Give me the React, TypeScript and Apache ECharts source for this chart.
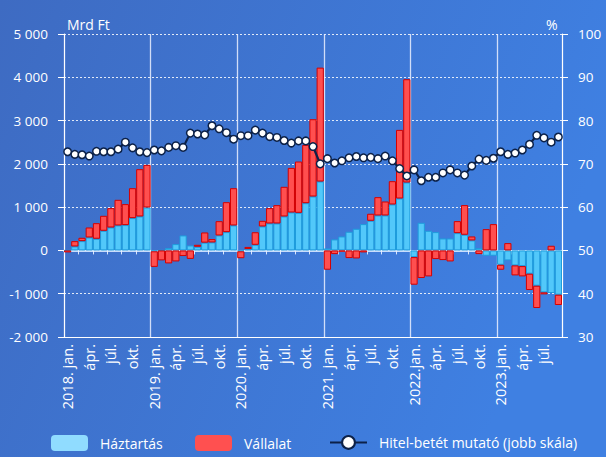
import React, { useEffect, useRef } from "react";
import * as echarts from "echarts";

const years = [2018, 2019, 2020, 2021, 2022, 2023];
const monthNames = ["jan.", "febr.", "márc.", "ápr.", "máj.", "jún.", "júl.", "aug.", "szept.", "okt.", "nov.", "dec."];
const monthCount = 69; // 2018. jan. – 2023. szept.

const categories: string[] = [];
const tickLabels: string[] = [];
for (let i = 0; i < monthCount; i++) {
  const y = years[Math.floor(i / 12)];
  const m = i % 12;
  categories.push(`${y}. ${monthNames[m]}`);
  tickLabels.push(m === 0 ? (y >= 2022 ? `${y}.jan.` : `${y}. jan.`) : monthNames[m]);
}

// Mrd Ft
const haztartas = [
  0, 92, 215, 300, 270, 454, 530, 577, 585, 746, 785, 992,
  -20, 0, 54, 146, 346, 115, 85, 180, 185, 346, 423, 577,
  -20, 31, 130, 554, 623, 623, 785, 877, 869, 1092, 1246, 1592,
  46, 254, 323, 431, 500, 608, 685, 808, 808, 1062, 1200, 1570,
  -154, 638, 454, 423, 277, 277, 400, 362, 231, 54, -123, -123,
  -331, -231, -346, -362, -538, -815, -969, -985, -1023,
];
const vallalat = [
  -46, 123, 77, 230, 360, 346, 447, 592, 485, 692, 1092, 985,
  -360, -230, -300, -254, -130, -195, 45, 235, 77, 330, 692, 861,
  -160, 50, 290, 130, 354, 423, 685, 1030, 1185, 1346, 1785, 2631,
  -446, -85, -30, -177, -185, -46, 162, 423, 323, 538, 1585, 2385,
  -638, -638, -600, -200, -223, -254, 277, 685, 92, -85, 492, 608,
  -115, 169, -231, -238, -377, -515, -46, 108, -238,
];
// %
const mutato = [
  72.8, 72.2, 72.1, 71.8, 72.9, 72.8, 72.8, 73.4, 75.0, 73.7, 72.8, 72.6,
  73.2, 73.0, 73.8, 74.2, 73.8, 77.1, 76.9, 76.7, 78.8, 78.1, 77.2, 75.7,
  76.5, 76.5, 77.8, 77.1, 76.3, 76.1, 75.4, 74.8, 75.3, 75.3, 74.0, 70.0,
  71.2, 70.2, 70.7, 71.4, 71.7, 71.4, 71.5, 71.2, 71.8, 70.7, 68.9, 67.2,
  68.6, 66.1, 66.9, 66.9, 67.9, 68.6, 67.9, 67.4, 69.5, 71.1, 70.8, 71.3,
  72.8, 72.2, 72.5, 73.2, 74.5, 76.6, 76.0, 75.0, 76.2,
];

const leftTicks = { min: -2000, max: 5000, interval: 1000 };
const rightTicks = { min: 30, max: 100, interval: 10 };

const FONT = "Open Sans";
const WHITE = "#ffffff";

function fmtThousands(v: number): string {
  return String(v).replace(/\B(?=(\d{3})+(?!\d))/g, " ");
}

export default function App() {
  const ref = useRef<HTMLDivElement>(null);
  useEffect(() => {
    if (!ref.current) return;
    const chart = echarts.init(ref.current, undefined, { renderer: "svg" });
    const legendText = { color: WHITE, fontSize: 14, fontFamily: FONT, padding: [0, 0, 0, 7] };
    chart.setOption({
      animation: false,
      backgroundColor: new echarts.graphic.LinearGradient(0, 0, 1, 0.3, [
        { offset: 0, color: "#3e6bc2" },
        { offset: 1, color: "#3f80e2" },
      ]),
      textStyle: { fontFamily: FONT },
      grid: { left: 64, right: 44, top: 34, bottom: 120, containLabel: false },
      graphic: [
        { type: "text", left: 67, top: 17, style: { text: "Mrd Ft", fill: WHITE, font: `14px "${FONT}"` } },
        { type: "text", left: 546, top: 17, style: { text: "%", fill: WHITE, font: `14px "${FONT}"` } },
      ],
      legend: [
        {
          data: [{ name: "Háztartás", itemStyle: { color: "#90dcff", borderWidth: 0 } }],
          left: 46, top: 430, itemWidth: 37, itemHeight: 16,
          textStyle: legendText,
        },
        {
          data: [{ name: "Vállalat", itemStyle: { color: "#ff5050", borderWidth: 0 } }],
          left: 190, top: 430, itemWidth: 37, itemHeight: 16,
          textStyle: legendText,
        },
        {
          data: ["Hitel-betét mutató (jobb skála)"],
          left: 324, top: 430, itemWidth: 37, itemHeight: 16,
          textStyle: legendText,
        },
      ],
      xAxis: [
        {
          type: "category",
          data: categories,
          boundaryGap: true,
          axisLine: { onZero: false, lineStyle: { color: WHITE, width: 1 } },
          axisTick: { show: false },
          axisLabel: {
            interval: 2,
            rotate: 90,
            color: WHITE,
            fontSize: 14.5,
            fontFamily: FONT,
            margin: 7,
            formatter: (_v: string, i: number) => tickLabels[i],
          },
          splitLine: {
            show: true,
            interval: (i: number) => i % 12 === 0,
            lineStyle: { color: "rgba(235,240,255,0.85)", width: 1.3, type: "solid" },
          },
        },
        {
          type: "category",
          data: categories,
          position: "bottom",
          boundaryGap: true,
          axisLine: { onZero: true, onZeroAxisIndex: 0, lineStyle: { color: "rgba(215,232,255,0.9)", width: 2 } },
          axisTick: { show: true, interval: 1, length: 4, lineStyle: { color: "rgba(235,242,255,0.9)", width: 1 } },
          axisLabel: { show: false },
          splitLine: { show: false },
        },
      ],
      yAxis: [
        {
          type: "value",
          ...leftTicks,
          position: "left",
          axisLine: { show: true, lineStyle: { color: WHITE, width: 1 } },
          axisTick: { show: true, length: 6, lineStyle: { color: WHITE } },
          axisLabel: { color: WHITE, fontSize: 13.5, fontFamily: FONT, margin: 16, formatter: (v: number) => fmtThousands(v) },
          splitLine: { show: true, lineStyle: { color: "rgba(255,255,255,0.85)", type: [2, 2], width: 1.2 } },
        },
        {
          type: "value",
          ...rightTicks,
          position: "right",
          axisLine: { show: true, lineStyle: { color: WHITE, width: 1 } },
          axisTick: { show: true, length: 6, lineStyle: { color: WHITE } },
          axisLabel: { color: WHITE, fontSize: 13.5, fontFamily: FONT, margin: 16 },
          splitLine: { show: false },
        },
      ],
      series: [
        {
          name: "Háztartás",
          type: "bar",
          stack: "total",
          data: haztartas,
          barCategoryGap: "0%",
          itemStyle: { color: "#52c8fa", borderColor: "#1e9cdc", borderWidth: 1 },
        },
        {
          name: "Vállalat",
          type: "bar",
          stack: "total",
          data: vallalat,
          barCategoryGap: "0%",
          itemStyle: { color: "#ff4f4f", borderColor: "#d60000", borderWidth: 1 },
        },
        {
          name: "Hitel-betét mutató (jobb skála)",
          type: "line",
          yAxisIndex: 1,
          data: mutato,
          symbol: "circle",
          symbolSize: 7.5,
          showSymbol: true,
          showAllSymbol: true,
          lineStyle: { color: "#0c2148", width: 2.2 },
          itemStyle: { color: WHITE, borderColor: "#0c2148", borderWidth: 1.5 },
          z: 5,
        },
      ],
    });
    return () => chart.dispose();
  }, []);
  return (
    <div
      ref={ref}
      style={{ position: "fixed", left: 0, top: 0, width: 606, height: 457 }}
    />
  );
}
